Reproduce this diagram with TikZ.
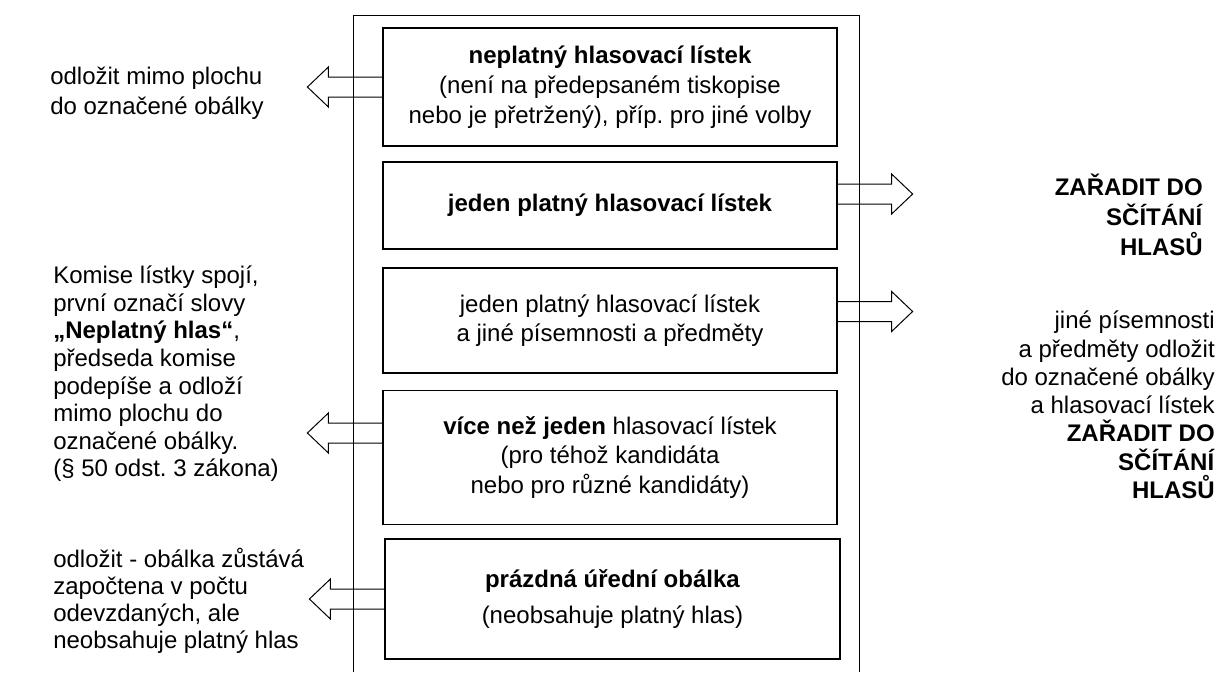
\documentclass[tikz,border=0pt]{standalone}
\usepackage{fontspec}
\setmainfont{Liberation Sans}
\frenchspacing
\usetikzlibrary{calc}

% block arrow: #1 start coordinate, #2 direction (1 right, -1 left)
\newcommand{\blokarrow}[2]{%
  \draw [line width=0.75pt] (#1) ++(0,10) -- ++({(#2)*54},0) -- ++(0,10) -- ++({(#2)*21},-20) -- ++({-(#2)*21},-20) -- ++(0,10) -- ++({-(#2)*54},0);}

\begin{document}
\begin{tikzpicture}[x=0.75pt,y=-0.75pt,
		box/.style={draw,line width=0.9pt,minimum width=340.5pt,inner sep=0pt,align=center,font=\fontsize{18}{22.1}\selectfont},
		txt/.style={inner sep=0pt,font=\fontsize{18}{#1}\selectfont},txt/.default=21]
			\useasboundingbox (0,0) rectangle (1218,672);
			\node [box,minimum height=88.5pt] (b1) at (610,87) {\textbf{neplatný hlasovací lístek}\\[1pt](není na předepsaném tiskopise\\nebo je přetržený), příp. pro jiné volby};
			\node [box,minimum height=65.25pt] (b2) at (610,205.5) {\textbf{jeden platný hlasovací lístek}};
			\node [box,minimum height=78.75pt] (b3) at (610,320.5) {jeden platný hlasovací lístek\\a jiné písemnosti a předměty};
			\node [box,minimum height=100.5pt] (b4) at (610,457.5) {\textbf{více než jeden} hlasovací lístek\\(pro téhož kandidáta\\nebo pro různé kandidáty)};
			\node [box,minimum height=90pt,minimum width=341.25pt] (b5) at (612.5,599) {\textbf{prázdná úřední obálka}\\[4.5pt](neobsahuje platný hlas)};
			\draw [line width=0.75pt] (353,672) -- (353,15) -- (859,15) -- (859,672);
			\coordinate (a1) at (b1.west);
			\coordinate (a2) at ($(b2.east)+(0,-11.5)$);
			\coordinate (a3) at ($(b3.east)+(0,-9)$);
			\coordinate (a4) at ($(b4.west)+(0,-24.5)$);
			\coordinate (a5) at (b5.west);
			\blokarrow{a1}{-1}
			\blokarrow{a2}{1}
			\blokarrow{a3}{1}
			\blokarrow{a4}{-1}
			\blokarrow{a5}{-1}
			\node [txt=22.5,anchor=west,align=left] (l1) at (50,93) {odložit mimo plochu\\do označené obálky};
			\node [txt=20.7,anchor=west,align=left] (l2) at (53,374) {Komise lístky spojí,\\první označí slovy\\\textbf{„Neplatný hlas“},\\předseda komise\\podepíše a odloží\\mimo plochu do\\označené obálky.\\(§ 50 odst. 3 zákona)};
			\node [txt=20.4,anchor=west,align=left] (l3) at (53,601) {odložit - obálka zůstává\\započtena v počtu\\odevzdaných, ale\\neobsahuje platný hlas};
			\node [txt=22.5,anchor=east,align=right] (r1) at (1203,215) {\textbf{ZAŘADIT DO}\\\textbf{SČÍTÁNÍ}\\\textbf{HLASŮ}};
			\node [txt=21.2,anchor=east,align=right] (r2) at (1215,405) {jiné písemnosti\\a předměty odložit\\do označené obálky\\a hlasovací lístek\\\textbf{ZAŘADIT DO}\\\textbf{SČÍTÁNÍ}\\\textbf{HLASŮ}};
		\end{tikzpicture}
\end{document}
